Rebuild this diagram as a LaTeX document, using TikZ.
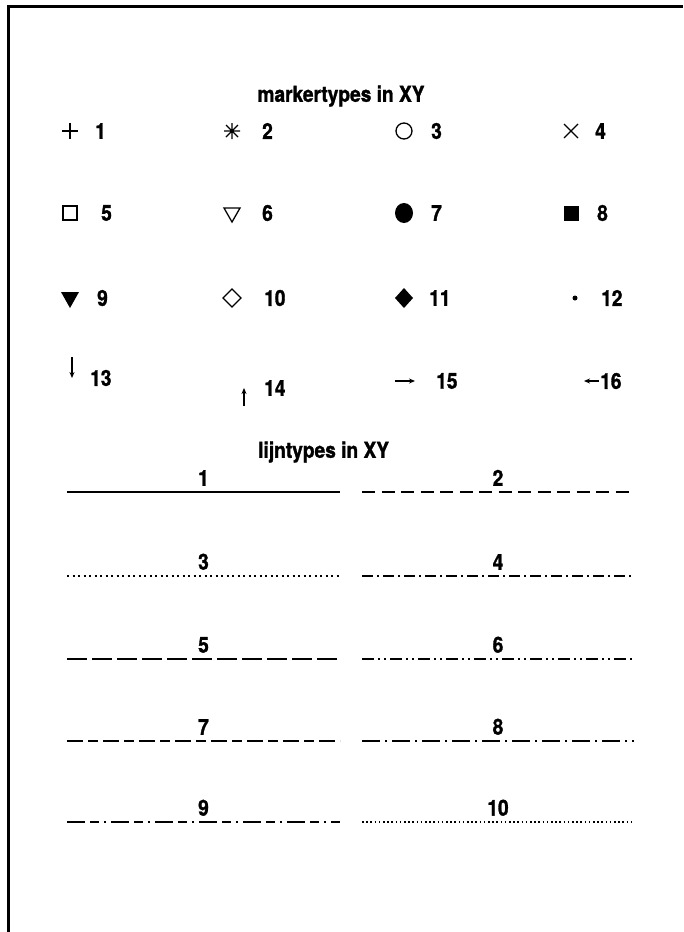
\documentclass[tikz,border=0pt]{standalone}
\usepackage{fontspec}
\setmainfont{TeX Gyre Heros}[FakeStretch=0.87, FakeBold=1.3]
\usetikzlibrary{arrows.meta,positioning,calc}
\tikzset{
    % headings of the two parts
    heading/.style={font=\bfseries\fontsize{22}{25}\selectfont, inner sep=0pt},
    % numbers beside markers and above lines
    num/.style={font=\bfseries\fontsize{22}{25}\selectfont, inner sep=0pt},
    % thin outline markers
    mark line/.style={line width=1.3pt},
    % filled markers
    mark fill/.style={fill=black, draw=none},
    % arrow markers
    mark arrow/.style={-{Stealth[length=6pt, width=5pt]}, line width=1.3pt},
    % sample lines
    type line/.style={line width=2pt},
    lt1/.style={solid},
    lt2/.style={dash pattern=on 13pt off 6.5pt},
    lt3/.style={dash pattern=on 2pt off 3.5pt},
    lt4/.style={dash pattern=on 11pt off 4pt on 2pt off 4pt},
    lt5/.style={dash pattern=on 20pt off 5pt},
    lt6/.style={dash pattern=on 12pt off 4pt on 2pt off 4pt on 2pt off 4pt},
    lt7/.style={dash pattern=on 16pt off 5pt on 10pt off 5pt},
    lt8/.style={dash pattern=on 18pt off 5pt on 2pt off 5pt},
    lt9/.style={dash pattern=on 18pt off 5pt on 9pt off 5pt on 2pt off 5pt},
    lt10/.style={dash pattern=on 1.6pt off 2.6pt},
}
\begin{document}
\begin{tikzpicture}[x=1pt, y=-1pt]
    \useasboundingbox (0,0) rectangle (683,932);
    % frame
    \coordinate (fb) at (8,932);
    \coordinate (fc) at (8,6);
    \coordinate (fr) at (683,6);
    \draw[line width=3pt] (fb) -- (fc) -- (fr);

    % ---- markers ----
    \node[heading] (mtitle) at (341,96) {markertypes in XY};

    \coordinate (m1) at (70,131);
    \coordinate (m2) at (232,131);
    \coordinate (m3) at (404,131);
    \coordinate (m4) at (571,131);
    \coordinate (m5) at (70,213);
    \coordinate (m6) at (232,213);
    \coordinate (m7) at (404,213);
    \coordinate (m8) at (571,213);
    \coordinate (m9) at (70,298);
    \coordinate (m10) at (232,298);
    \coordinate (m11) at (404,298);
    \coordinate (m12) at (575,298);
    \coordinate (m13) at (72,378);
    \coordinate (m14) at (244,388);
    \coordinate (m15) at (415,381);
    \coordinate (m16) at (584,381);

    \draw[mark line, shift={(m1)}] (-8,0) -- (8,0) (0,-8) -- (0,8);
    \draw[mark line, shift={(m2)}] (-8,0) -- (8,0) (0,-8) -- (0,8)
        (-6,-6) -- (6,6) (-6,6) -- (6,-6);
    \draw[mark line] (m3) circle[radius=8];
    \draw[mark line, shift={(m4)}] (-7,-7) -- (7,7) (-7,7) -- (7,-7);
    \draw[mark line, shift={(m5)}] (-7,-7) rectangle (7,7);
    \draw[mark line, shift={(m6)}] (-8,-5) -- (8,-5) -- (0,9) -- cycle;
    \fill[mark fill] (m7) ellipse[x radius=9, y radius=10];
    \fill[mark fill, shift={(m8)}] (-7.5,-7.5) rectangle (7.5,7.5);
    \fill[mark fill, shift={(m9)}] (-9,-6) -- (9,-6) -- (0,10) -- cycle;
    \draw[mark line, shift={(m10)}] (-9,0) -- (0,-9) -- (9,0) -- (0,9) -- cycle;
    \fill[mark fill, shift={(m11)}] (-9,0) -- (0,-10) -- (9,0) -- (0,10) -- cycle;
    \fill[mark fill] (m12) circle[radius=2.5];
    \draw[mark arrow] ([yshift=21pt]m13) -- (m13);
    \draw[mark arrow] ([yshift=-18pt]m14) -- (m14);
    \draw[mark arrow] ([xshift=-20pt]m15) -- (m15);
    \draw[mark arrow] ([xshift=15pt]m16) -- (m16);

    \node[num, right=25pt of m1] (n1) {1};
    \node[num, right=30pt of m2] (n2) {2};
    \node[num, right=27pt of m3] (n3) {3};
    \node[num, right=24pt of m4] (n4) {4};
    \node[num, right=31pt of m5] (n5) {5};
    \node[num, right=30pt of m6] (n6) {6};
    \node[num, right=27pt of m7] (n7) {7};
    \node[num, right=26pt of m8] (n8) {8};
    \node[num, right=27pt of m9] (n9) {9};
    \node[num, right=32pt of m10] (n10) {10};
    \node[num, right=25pt of m11] (n11) {11};
    \node[num, right=26pt of m12] (n12) {12};
    \node[num, right=18pt of m13] (n13) {13};
    \node[num, right=20pt of m14] (n14) {14};
    \node[num, right=21pt of m15] (n15) {15};
    \node[num, right=16pt of m16] (n16) {16};

    % ---- line types ----
    \node[heading, anchor=west] (ltitle) at (258,452) {lijntypes in XY};

    \foreach \l/\r/\y in {1/2/492, 3/4/576, 5/6/659, 7/8/741, 9/10/822}{
        \coordinate (a\l) at (67,\y);
        \coordinate (b\l) at (340,\y);
        \coordinate (a\r) at (362,\y);
        \coordinate (b\r) at (634,\y);
        \draw[type line, lt\l] (a\l) -- (b\l);
        \draw[type line, lt\r] (a\r) -- (b\r);
        \node[num, anchor=south] (t\l) at ($(a\l)!0.5!(b\l)+(0,-6)$) {\l};
        \node[num, anchor=south] (t\r) at ($(a\r)!0.5!(b\r)+(0,-6)$) {\r};
    }
\end{tikzpicture}
\end{document}
